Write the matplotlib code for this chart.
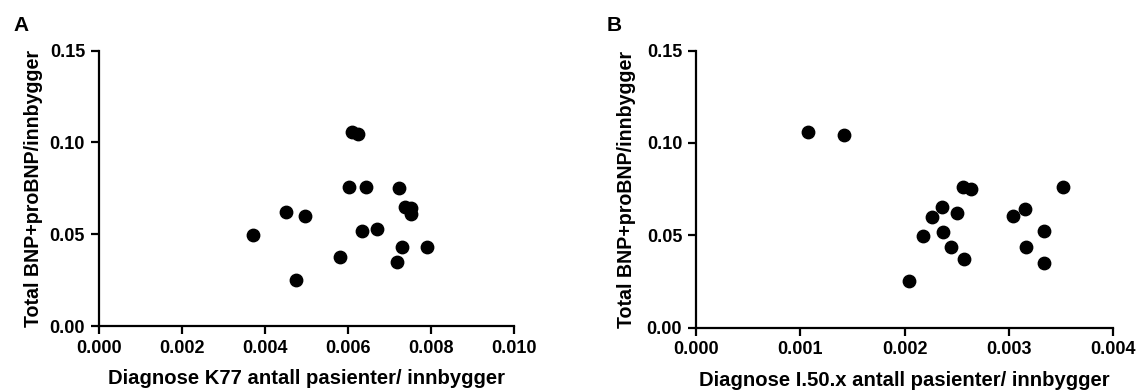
import matplotlib.pyplot as plt

plt.rcParams['font.family'] = ['Liberation Sans', 'DejaVu Sans']
plt.rcParams['font.weight'] = 'bold'

# K77 diagnoses per inhabitant vs BNP+proBNP per inhabitant
k77_x = [0.00609, 0.00624, 0.00602, 0.00644, 0.00722, 0.00737, 0.00751, 0.00752,
         0.00450, 0.00496, 0.00370, 0.00634, 0.00670, 0.00731, 0.00790, 0.00582,
         0.00718, 0.00474]
k77_y = [0.1059, 0.1045, 0.0759, 0.0759, 0.0750, 0.0650, 0.0641, 0.0609,
         0.0619, 0.0599, 0.0496, 0.0518, 0.0527, 0.0432, 0.0432, 0.0374,
         0.0349, 0.0251]

# I50.x diagnoses per inhabitant vs BNP+proBNP per inhabitant
i50_x = [0.00107, 0.00142, 0.00256, 0.00264, 0.00352, 0.00236, 0.00226, 0.00250,
         0.00304, 0.00316, 0.00218, 0.00237, 0.00334, 0.00245, 0.00317, 0.00257,
         0.00334, 0.00204]
i50_y = [0.1058, 0.1045, 0.0762, 0.0751, 0.0762, 0.0652, 0.0601, 0.0619,
         0.0607, 0.0641, 0.0497, 0.0518, 0.0525, 0.0435, 0.0435, 0.0374,
         0.0350, 0.0253]

y_ticks = [0.00, 0.05, 0.10, 0.15]
y_label = "Total BNP+proBNP/innbygger"

fig = plt.figure(figsize=(11.42, 3.9), dpi=100)
axA = fig.add_axes([0.0867, 0.164, 0.3633, 0.706])
axB = fig.add_axes([0.6095, 0.160, 0.3651, 0.710])


def style(ax, xmax, xticks, xlabel, ylab_x):
    ax.set_xlim(0, xmax)
    ax.set_ylim(0, 0.15)
    ax.set_xticks(xticks)
    ax.set_xticklabels([f"{t:.3f}" for t in xticks])
    ax.set_yticks(y_ticks)
    ax.set_yticklabels([f"{t:.2f}" for t in y_ticks])
    for side in ('top', 'right'):
        ax.spines[side].set_visible(False)
    for side in ('left', 'bottom'):
        ax.spines[side].set_linewidth(1.6)
    ax.tick_params(width=1.6, length=6, labelsize=13, pad=4)
    ax.set_xlabel(xlabel, fontsize=14.6, fontweight='bold', va='center')
    ax.set_ylabel(y_label, fontsize=14.1, fontweight='bold', va='center')
    ax.xaxis.set_label_coords(0.5, -0.19)
    ax.yaxis.set_label_coords(ylab_x, 0.5)


axA.scatter(k77_x, k77_y, s=80, color='black', clip_on=False, zorder=3)
style(axA, 0.010, [0.000, 0.002, 0.004, 0.006, 0.008, 0.010],
      "Diagnose K77 antall pasienter/ innbygger", -0.159)

axB.scatter(i50_x, i50_y, s=80, color='black', clip_on=False, zorder=3)
style(axB, 0.004, [0.000, 0.001, 0.002, 0.003, 0.004],
      "Diagnose I.50.x antall pasienter/ innbygger", -0.168)

fig.text(0.012, 0.96, "A", fontsize=15, fontweight='bold', va='top')
fig.text(0.531, 0.96, "B", fontsize=15, fontweight='bold', va='top')

fig.savefig("out.png", dpi=100)
